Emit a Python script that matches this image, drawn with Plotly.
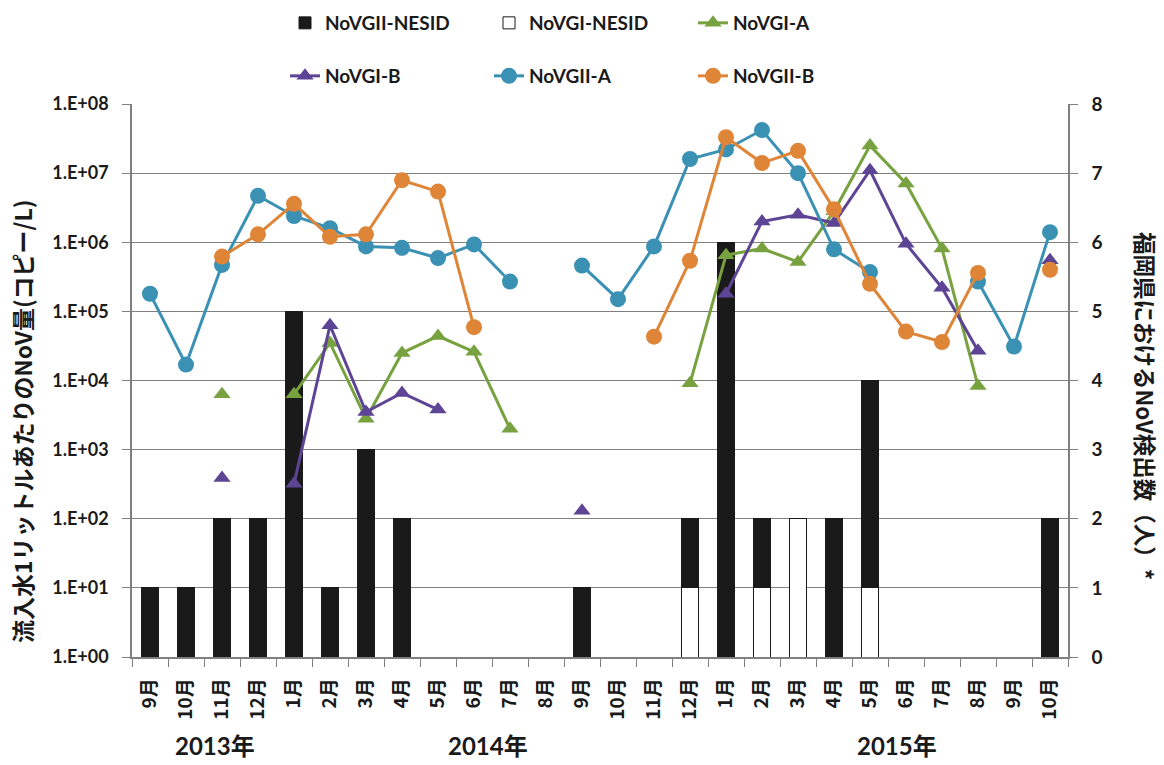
import plotly.graph_objects as go

# Months (unique ids) and their printed labels
month_ids = [
    "2013-09", "2013-10", "2013-11", "2013-12",
    "2014-01", "2014-02", "2014-03", "2014-04", "2014-05", "2014-06",
    "2014-07", "2014-08", "2014-09", "2014-10", "2014-11", "2014-12",
    "2015-01", "2015-02", "2015-03", "2015-04", "2015-05", "2015-06",
    "2015-07", "2015-08", "2015-09", "2015-10",
]
month_labels = [
    "9月", "10月", "11月", "12月",
    "1月", "2月", "3月", "4月", "5月", "6月", "7月", "8月", "9月", "10月", "11月", "12月",
    "1月", "2月", "3月", "4月", "5月", "6月", "7月", "8月", "9月", "10月",
]

# Patients reported in Fukuoka (NESID), per genogroup
nesid_gii = [1, 1, 2, 2, 5, 1, 3, 2, None, None, None, None, 1, None, None, 1,
             6, 1, None, 2, 3, None, None, None, None, 2]
nesid_gi = [None, None, None, None, None, None, None, None, None, None, None, None, None, None, None, 1,
            None, 1, 2, None, 1, None, None, None, None, None]

# NoV copies per litre of influent water
novgi_a = [None, None, 6.3e3, None, 6.3e3, 3.5e4, 2.8e3, 2.5e4, 4.4e4, 2.6e4,
           2.0e3, None, None, None, None, 9.1e3, 6.5e5, 8.1e5, 5.2e5, 2.8e6,
           2.5e7, 7.1e6, 8.1e5, 8.3e3, None, None]
novgi_b = [None, None, 3.9e2, None, 3.2e2, 6.3e4, 3.5e3, 6.6e3, 3.8e3, None,
           None, None, 1.3e2, None, None, None, 1.8e5, 2.0e6, 2.5e6, 1.9e6,
           1.1e7, 9.5e5, 2.2e5, 2.7e4, None, 5.5e5]
novgii_a = [1.8e5, 1.7e4, 4.7e5, 4.7e6, 2.4e6, 1.6e6, 8.7e5, 8.3e5, 5.9e5, 9.3e5,
            2.7e5, None, 4.6e5, 1.5e5, 8.7e5, 1.6e7, 2.2e7, 4.2e7, 1.0e7, 7.9e5,
            3.7e5, None, None, 2.7e5, 3.1e4, 1.4e6]
novgii_b = [None, None, 6.2e5, 1.3e6, 3.6e6, 1.2e6, 1.3e6, 7.9e6, 5.4e6, 5.9e4,
            None, None, None, None, 4.3e4, 5.4e5, 3.3e7, 1.4e7, 2.1e7, 3.0e6,
            2.5e5, 5.1e4, 3.6e4, 3.6e5, None, 4.0e5]

log_tickvals = [1e0, 1e1, 1e2, 1e3, 1e4, 1e5, 1e6, 1e7, 1e8]
log_ticktext = ["1.E+00", "1.E+01", "1.E+02", "1.E+03", "1.E+04",
                "1.E+05", "1.E+06", "1.E+07", "1.E+08"]
count_ticks = [0, 1, 2, 3, 4, 5, 6, 7, 8]
year_labels = ["2013年", "2014年", "2015年"]
year_pos = [1.8, 9.4, 20.75]

FONT = "Lato, Noto Sans CJK JP, sans-serif"
CJK = "Noto Sans CJK JP, sans-serif"
INK = "#1a1a1a"
GRID = "#808080"

fig = go.Figure()

# Stacked bars on the count axis (GI at the bottom, GII on top)
fig.add_trace(go.Bar(
    x=month_ids, y=nesid_gi, name="NoVGI-NESID", yaxis="y",
    marker=dict(color="white", line=dict(color=INK, width=1)),
    width=0.45, legend="legend", legendrank=2,
))
fig.add_trace(go.Bar(
    x=month_ids, y=nesid_gii, name="NoVGII-NESID", yaxis="y",
    marker=dict(color=INK, line=dict(color=INK, width=1)),
    width=0.45, legend="legend", legendrank=1,
))

line_series = [
    ("NoVGI-A", novgi_a, "#77a23f", "triangle-up", "legend", 3),
    ("NoVGI-B", novgi_b, "#5d4494", "triangle-up", "legend2", 4),
    ("NoVGII-A", novgii_a, "#3a91b4", "circle", "legend2", 5),
    ("NoVGII-B", novgii_b, "#de8538", "circle", "legend2", 6),
]
for name, vals, color, sym, leg, rank in line_series:
    fig.add_trace(go.Scatter(
        x=month_ids, y=vals, name=name, yaxis="y2",
        mode="lines+markers", connectgaps=False,
        line=dict(color=color, width=3),
        marker=dict(symbol=sym, size=16 if sym == "circle" else 15, color=color),
        legend=leg, legendrank=rank,
    ))

W, H = 1164, 765
ML, MR, MT, MB = 132, 96, 104, 108
PW, PH = W - ML - MR, H - MT - MB


def px_x(px):
    return (px - ML) / PW


def px_y(py):
    return (H - MB - py) / PH


annotations = [
    dict(text="流入水1リットルあたりのNoV量(コピー/L)", x=px_x(22), y=px_y(421),
         xref="paper", yref="paper", xanchor="center", yanchor="middle",
         textangle=-90, showarrow=False,
         font=dict(family=CJK, size=23, color=INK, weight="bold")),
    dict(text="福岡県におけるNoV検出数（人）*", x=px_x(1146), y=px_y(406),
         xref="paper", yref="paper", xanchor="center", yanchor="middle",
         textangle=90, showarrow=False,
         font=dict(family=CJK, size=22.5, color=INK, weight="bold")),
]
for lab, pos in zip(year_labels, year_pos):
    annotations.append(dict(
        text=lab, x=pos, y=px_y(745), xref="x", yref="paper",
        xanchor="center", yanchor="middle", showarrow=False,
        font=dict(family=FONT, size=24, color=INK, weight="bold"),
    ))

legend_common = dict(
    orientation="h", xanchor="left", yanchor="middle", entrywidth=159,
    font=dict(family=FONT, size=19, color=INK, weight="bold"),
    bgcolor="rgba(0,0,0,0)", traceorder="normal",
)

fig.update_layout(
    width=W, height=H,
    margin=dict(l=ML, r=MR, t=MT, b=MB, autoexpand=False),
    paper_bgcolor="white", plot_bgcolor="white",
    barmode="stack", bargap=0.55,
    xaxis=dict(
        type="category", categoryorder="array", categoryarray=month_ids,
        tickmode="array", tickvals=month_ids, ticktext=month_labels,
        tickangle=-90, tickson="boundaries", ticks="outside", ticklen=8,
        tickcolor=GRID, tickwidth=1.3, showgrid=False,
        showline=True, linecolor=GRID, linewidth=1.5,
        range=[-0.5, 25.5],
        tickfont=dict(family=CJK, size=19, color=INK, weight="bold"),
        ticklabelstandoff=12,
    ),
    yaxis=dict(
        side="right", range=[0, 8], tickmode="array", tickvals=count_ticks,
        showgrid=True, gridcolor=GRID, gridwidth=1.3, zeroline=False,
        showline=True, linecolor=GRID, linewidth=1.5,
        ticks="outside", ticklen=8, tickcolor=GRID, tickwidth=1.3,
        tickfont=dict(family=FONT, size=19, color=INK, weight="bold"),
        ticklabelstandoff=10,
    ),
    yaxis2=dict(
        type="log", side="left", overlaying="y", range=[0, 8],
        tickmode="array", tickvals=log_tickvals, ticktext=log_ticktext,
        showgrid=False, zeroline=False,
        showline=True, linecolor=GRID, linewidth=1.5,
        ticks="outside", ticklen=8, tickcolor=GRID, tickwidth=1.3,
        tickfont=dict(family=FONT, size=18, color=INK, weight="bold"),
        ticklabelstandoff=10,
    ),
    legend=dict(legend_common, x=px_x(285), y=px_y(23)),
    legend2=dict(legend_common, x=px_x(285), y=px_y(76)),
    annotations=annotations,
)

fig.write_html("out.html")
